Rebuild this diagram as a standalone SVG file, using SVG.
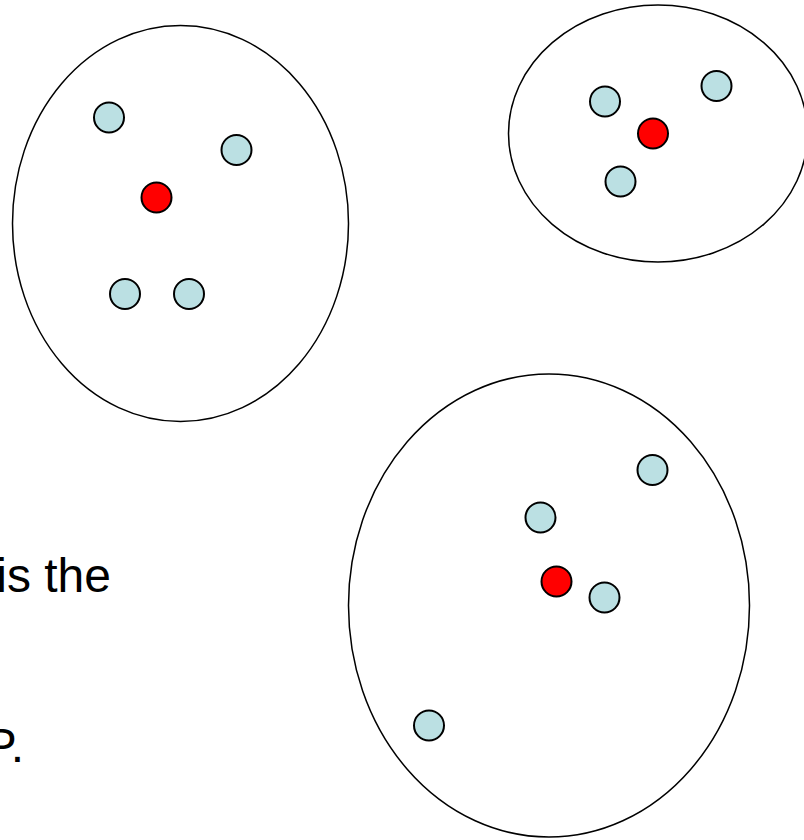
<svg xmlns="http://www.w3.org/2000/svg" width="804" height="840" viewBox="0 0 804 840">
<style>
.cl{fill:none;stroke:#000;stroke-width:1.5}
.pt{fill:#BBE0E3;stroke:#000;stroke-width:2}
.ct{fill:#FF0000;stroke:#000;stroke-width:2}
.tx{font-family:"Liberation Sans",Arial,sans-serif;font-size:48px;fill:#000}
</style>
<rect width="804" height="840" fill="#fff"/>
<g id="cluster1">
<ellipse class="cl" cx="180.5" cy="223.5" rx="168" ry="198"/>
<circle class="pt" cx="109" cy="117.5" r="15"/>
<circle class="pt" cx="236.5" cy="150" r="15"/>
<circle class="ct" cx="156.5" cy="197.5" r="15"/>
<circle class="pt" cx="125" cy="294" r="15"/>
<circle class="pt" cx="189" cy="294" r="15"/>
</g>
<g id="cluster2">
<ellipse class="cl" cx="658" cy="133.5" rx="149.5" ry="128.5"/>
<circle class="pt" cx="605" cy="101.5" r="15"/>
<circle class="pt" cx="716.5" cy="86" r="15"/>
<circle class="ct" cx="653" cy="133.5" r="15"/>
<circle class="pt" cx="620.5" cy="181.5" r="15"/>
</g>
<g id="cluster3">
<ellipse class="cl" cx="549" cy="605.5" rx="200.5" ry="231.5"/>
<circle class="pt" cx="652.5" cy="470" r="15"/>
<circle class="pt" cx="540.5" cy="517.5" r="15"/>
<circle class="ct" cx="556.5" cy="581.5" r="15"/>
<circle class="pt" cx="604.5" cy="597.5" r="15"/>
<circle class="pt" cx="429" cy="725.5" r="15"/>
</g>
<g id="connectors"/>
<text class="tx" x="111" y="592" text-anchor="end">is the</text>
<text class="tx" x="24" y="762" text-anchor="end">P.</text>
</svg>
